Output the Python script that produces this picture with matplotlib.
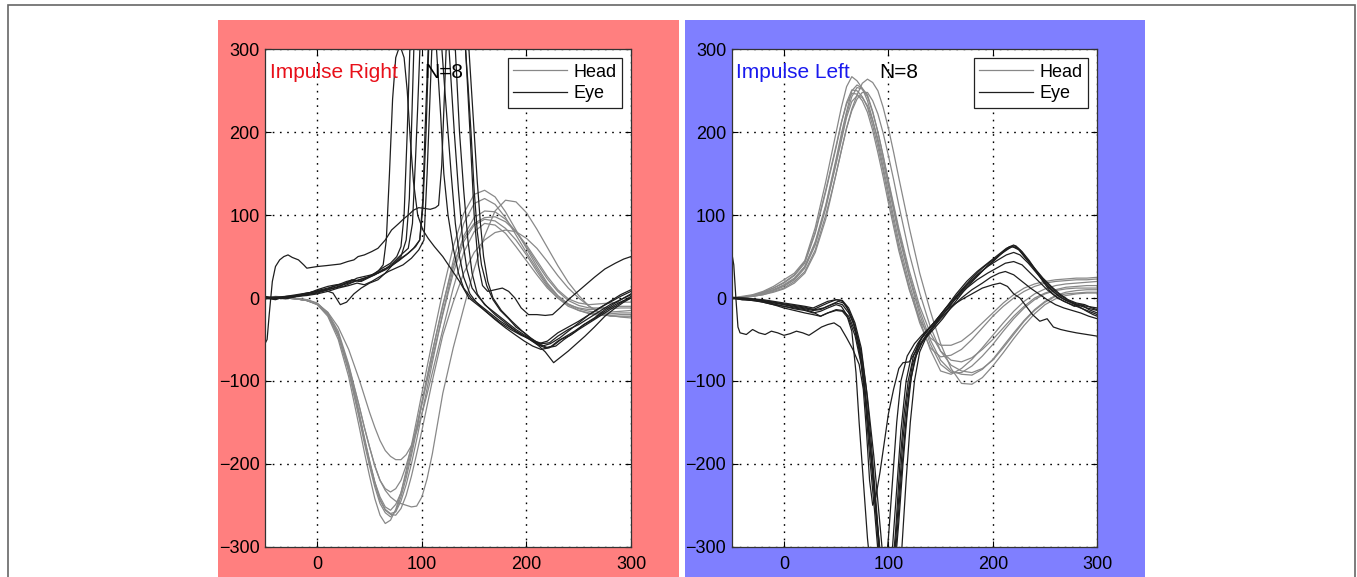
import matplotlib.pyplot as plt
from matplotlib.patches import Rectangle

plt.rcParams['font.family'] = ['Liberation Sans', 'DejaVu Sans']

# time axis (ms) shared by the head velocity traces (denser around the big swing)
t_head = [-50, -40, -30, -20, -10, 0, 10, 20, 30, 40,
          45, 50, 55, 60, 65, 70, 75, 80, 85, 90, 95, 100, 105, 110,
          120, 130, 140, 150, 160, 170, 180, 190, 200, 210, 220, 230, 240, 250, 260, 270, 280, 290, 300]

# --- Impulse Right : head traces (deg/s)
head_r1 = [0, 2, 1, -1, -3, -8, -22, -50, -95, -155,
           -186, -215, -242, -262, -272, -268, -255, -235, -208, -178, -147, -115, -83, -52,
           8, 62, 102, 125, 130, 122, 104, 82, 60, 38, 18, 3, -7, -13, -16, -17, -17, -16, -15]
head_r2 = [0, 1, 1, 0, -2, -7, -20, -46, -88, -145,
           -175, -203, -228, -248, -259, -264, -257, -240, -217, -190, -160, -128, -96, -65,
           -10, 45, 90, 114, 120, 113, 97, 76, 55, 35, 16, 2, -8, -15, -19, -21, -21, -20, -20]
head_r3 = [0, 1, 0, -1, -3, -7, -19, -43, -83, -138,
           -168, -196, -222, -243, -255, -260, -258, -245, -225, -200, -171, -140, -109, -78,
           -18, 36, 75, 97, 105, 104, 95, 80, 62, 42, 23, 8, -3, -9, -12, -12, -11, -10, -10]
head_r4 = [0, 0, 0, -1, -2, -6, -18, -45, -88, -142,
           -171, -198, -222, -240, -252, -256, -249, -235, -212, -185, -156, -125, -95, -65,
           -8, 40, 72, 90, 97, 98, 92, 80, 64, 45, 26, 10, -1, -6, -8, -7, -6, -5, -5]
head_r5 = [0, 1, 0, -1, -3, -8, -20, -45, -82, -130,
           -156, -180, -203, -220, -230, -234, -230, -220, -202, -180, -155, -128, -100, -72,
           -20, 30, 68, 88, 95, 93, 84, 70, 52, 32, 14, 0, -10, -15, -18, -19, -19, -18, -18]
head_r6 = [0, 0, 0, -1, -3, -7, -17, -35, -62, -98,
           -118, -138, -156, -172, -184, -191, -195, -195, -189, -178, -161, -140, -116, -90,
           -38, 12, 55, 80, 90, 88, 78, 62, 45, 28, 12, 0, -8, -12, -14, -13, -13, -12, -12]
head_r7 = [0, 0, 0, -1, -3, -7, -18, -40, -80, -130,
           -156, -180, -202, -220, -232, -240, -245, -248, -250, -252, -251, -240, -218, -188,
           -115, -60, -12, 35, 75, 105, 118, 116, 103, 83, 61, 39, 19, 3, -10, -18, -22, -22, -22]
head_r8 = [0, 1, 0, -1, -3, -7, -19, -44, -85, -140,
           -170, -198, -224, -244, -256, -261, -262, -254, -238, -215, -188, -160, -130, -100,
           -45, -5, 30, 55, 70, 79, 82, 80, 72, 60, 44, 27, 12, 0, -10, -17, -21, -23, -24]

# --- Impulse Right : eye traces (t, deg/s)
eye_r1 = [(-50, -55), (-48, -50), (-46, -20), (-43, 20), (-40, 38), (-36, 46), (-32, 50), (-28, 52),
          (-24, 49), (-18, 46), (-13, 40), (-10, 36), (-5, 37), (0, 38), (8, 39), (15, 40), (22, 41),
          (29, 44), (35, 46), (39, 50), (45, 52), (52, 56), (58, 60), (65, 70), (71, 82), (78, 90),
          (83, 96), (87, 100), (92, 106), (97, 109), (103, 108), (108, 107), (113, 109), (116, 112),
          (119, 160), (122, 260), (125, 360), (130, 420), (136, 400), (141, 320), (146, 200),
          (150, 100), (154, 40), (158, 15), (163, 8), (170, 10), (177, 12), (183, 8), (189, 0),
          (195, -12), (202, -20), (210, -20), (218, -21), (225, -20), (232, -12), (240, -2),
          (253, 12), (265, 25), (275, 35), (285, 42), (293, 47), (300, 50)]
eye_r2 = [(-50, 0), (-40, -2), (-30, 2), (-20, 4), (-10, 6), (0, 8), (10, 10), (20, 14), (30, 18),
          (40, 22), (50, 26), (58, 32), (63, 40), (66, 70), (69, 150), (72, 240), (75, 290),
          (79, 305), (83, 290), (86, 250), (89, 190), (92, 140), (96, 100), (101, 82), (106, 72),
          (112, 62), (120, 50), (128, 35), (136, 20), (145, 0), (155, -10), (165, -20), (175, -30),
          (185, -38), (195, -45), (205, -50), (212, -55), (220, -52), (230, -42), (240, -35),
          (250, -28), (260, -20), (270, -12), (280, -5), (290, 2), (300, 8)]
eye_r3 = [(-50, 2), (-40, 0), (-30, 1), (-20, 3), (-10, 5), (0, 9), (10, 12), (18, 15), (25, 14),
          (32, 18), (40, 22), (48, 25), (55, 30), (62, 36), (70, 42), (76, 50), (80, 62), (83, 100),
          (86, 200), (89, 320), (93, 420), (100, 440), (108, 400), (114, 300), (118, 220),
          (121, 150), (125, 100), (130, 60), (135, 30), (140, 12), (147, 0), (155, -8), (165, -18),
          (175, -28), (185, -36), (195, -44), (203, -50), (210, -56), (218, -60), (225, -58),
          (233, -50), (242, -45), (250, -38), (260, -30), (270, -22), (280, -14), (290, -6), (300, 2)]
eye_r4 = [(-50, 0), (-40, 1), (-30, 0), (-20, 2), (-10, 4), (0, 6), (8, 9), (15, 6), (22, -8),
          (28, -5), (35, 5), (42, 12), (50, 18), (58, 22), (65, 30), (72, 40), (80, 50), (85, 70),
          (88, 120), (90, 200), (93, 330), (97, 420), (105, 430), (112, 400), (118, 320),
          (122, 250), (125, 200), (128, 150), (132, 90), (136, 50), (140, 25), (146, 5), (152, -5),
          (160, -15), (170, -26), (180, -36), (190, -45), (198, -52), (206, -58), (214, -62),
          (222, -60), (230, -52), (238, -46), (246, -40), (255, -32), (265, -25), (275, -16),
          (285, -8), (293, -3), (300, 0)]
eye_r5 = [(-50, 1), (-40, 0), (-30, -1), (-20, 2), (-10, 5), (0, 10), (10, 14), (18, 16), (25, 17),
          (32, 20), (38, 24), (45, 26), (52, 28), (58, 30), (65, 35), (72, 42), (80, 52), (87, 60),
          (91, 90), (94, 170), (96, 230), (99, 330), (104, 420), (112, 440), (120, 390), (126, 300),
          (131, 200), (135, 130), (139, 70), (143, 35), (148, 12), (155, 0), (162, -10), (170, -20),
          (180, -30), (190, -40), (198, -46), (206, -52), (215, -58), (223, -55), (232, -48),
          (240, -40), (250, -30), (260, -20), (270, -12), (280, -4), (290, 4), (300, 10)]
eye_r6 = [(-50, 0), (-40, 1), (-30, 2), (-20, 3), (-10, 6), (0, 8), (10, 11), (20, 16), (28, 20),
          (35, 22), (42, 20), (50, 25), (58, 30), (65, 34), (72, 40), (80, 48), (87, 54), (94, 62),
          (98, 70), (101, 120), (103, 200), (106, 300), (110, 420), (118, 440), (126, 400),
          (132, 300), (136, 200), (140, 130), (144, 70), (148, 30), (153, 5), (160, -8), (170, -18),
          (180, -28), (190, -38), (200, -46), (208, -52), (215, -55), (222, -54), (230, -46),
          (240, -38), (250, -32), (260, -24), (270, -16), (280, -8), (290, -2), (300, 4)]
eye_r7 = [(-50, -1), (-40, 0), (-30, 1), (-20, 2), (-10, 4), (0, 7), (10, 10), (20, 13), (27, 18),
          (33, 22), (40, 20), (47, 24), (55, 28), (62, 34), (70, 38), (78, 45), (85, 52), (92, 60),
          (98, 70), (101, 110), (104, 200), (107, 320), (112, 430), (122, 450), (132, 420),
          (140, 330), (144, 260), (147, 200), (150, 130), (153, 80), (157, 40), (162, 15),
          (168, -2), (175, -15), (183, -25), (190, -35), (198, -42), (205, -50), (212, -58),
          (218, -65), (226, -78), (232, -72), (240, -64), (248, -55), (256, -46), (265, -35),
          (275, -22), (285, -12), (293, -5), (300, 0)]
eye_r8 = [(-50, 0), (-40, -1), (-30, 1), (-20, 2), (-10, 3), (0, 5), (10, 8), (20, 12), (30, 15),
          (38, 18), (45, 16), (52, 20), (60, 26), (68, 32), (75, 36), (82, 40), (90, 48), (97, 58),
          (102, 70), (105, 150), (108, 250), (111, 350), (116, 440), (126, 460), (136, 440),
          (143, 340), (147, 260), (150, 200), (153, 140), (156, 90), (159, 50), (163, 20),
          (168, 0), (176, -15), (186, -28), (196, -40), (204, -48), (212, -55), (220, -60),
          (228, -58), (236, -50), (245, -42), (255, -32), (265, -24), (275, -14), (285, -6),
          (293, 0), (300, 5)]

# --- Impulse Left : head traces
head_l1 = [0, 2, 4, 8, 14, 22, 30, 45, 85, 140,
           170, 200, 230, 255, 267, 262, 253, 238, 215, 188, 158, 128, 98, 68,
           18, -26, -62, -88, -92, -85, -74, -60, -45, -30, -16, -4, 5, 11, 15, 17, 18, 19, 20]
head_l2 = [0, 1, 2, 4, 8, 12, 20, 32, 58, 100,
           124, 150, 178, 205, 228, 245, 259, 264, 260, 250, 230, 205, 176, 145,
           85, 30, -15, -55, -85, -103, -104, -96, -82, -66, -49, -33, -19, -8, -1, 3, 5, 6, 6]
head_l3 = [0, 1, 3, 6, 10, 16, 24, 38, 68, 112,
           140, 168, 198, 225, 250, 257, 253, 245, 225, 200, 171, 140, 110, 80,
           28, -15, -50, -75, -88, -92, -93, -86, -74, -58, -42, -27, -14, -4, 3, 7, 9, 10, 10]
head_l4 = [0, 1, 3, 6, 10, 15, 23, 38, 66, 110,
           137, 165, 194, 222, 243, 254, 252, 243, 224, 200, 172, 142, 113, 84,
           33, -10, -42, -64, -75, -77, -72, -62, -50, -36, -22, -10, 0, 6, 10, 13, 14, 15, 15]
head_l5 = [0, 1, 3, 7, 12, 18, 27, 42, 78, 128,
           155, 182, 211, 236, 251, 250, 243, 230, 208, 182, 153, 122, 92, 62,
           12, -30, -60, -71, -69, -62, -50, -36, -22, -10, 0, 8, 14, 18, 20, 21, 22, 22, 23]
head_l6 = [0, 1, 3, 7, 12, 19, 28, 44, 80, 130,
           157, 184, 212, 234, 247, 246, 238, 224, 202, 175, 146, 115, 86, 57,
           10, -26, -48, -57, -57, -52, -42, -30, -18, -6, 4, 12, 17, 20, 22, 23, 24, 24, 25]
head_l7 = [0, 1, 2, 5, 9, 14, 22, 36, 64, 108,
           135, 162, 190, 218, 237, 244, 242, 232, 214, 192, 165, 135, 106, 76,
           25, -20, -55, -80, -90, -90, -82, -70, -56, -40, -25, -12, -2, 5, 9, 11, 12, 12, 12]
head_l8 = [0, 0, 2, 4, 7, 11, 18, 30, 55, 95,
           122, 150, 178, 205, 226, 240, 248, 248, 238, 222, 199, 172, 143, 112,
           54, 6, -34, -64, -81, -88, -90, -85, -75, -60, -44, -28, -15, -5, 2, 5, 6, 7, 7]

# --- Impulse Left : eye traces
eye_l1 = [(-50, 55), (-48, 40), (-46, 0), (-44, -35), (-42, -42), (-36, -44), (-30, -38), (-24, -42),
          (-18, -44), (-12, -40), (-6, -42), (0, -45), (6, -43), (12, -40), (18, -42), (24, -45),
          (30, -40), (36, -35), (42, -32), (48, -30), (54, -35), (60, -48), (66, -62), (72, -80),
          (76, -110), (79, -160), (82, -220), (85, -250), (88, -240), (92, -210), (96, -175),
          (100, -140), (105, -110), (110, -85), (114, -78), (120, -77), (126, -65), (132, -48),
          (140, -35), (150, -22), (160, -10), (170, -2), (180, 5), (190, 12), (200, 16), (207, 18),
          (214, 14), (220, 5), (226, 0), (232, -10), (238, -20), (245, -28), (252, -25), (258, -35),
          (265, -38), (272, -40), (280, -42), (290, -44), (300, -46)]
eye_l2 = [(-50, 0), (-40, -1), (-30, -3), (-20, -4), (-10, -6), (0, -8), (10, -10), (20, -12),
          (30, -14), (38, -12), (45, -8), (52, -4), (57, -6), (62, -15), (67, -30), (72, -60),
          (77, -110), (82, -190), (87, -260), (91, -320), (95, -360), (100, -350), (104, -300),
          (108, -230), (112, -160), (117, -100), (122, -70), (128, -55), (135, -42), (145, -28),
          (155, -12), (165, 5), (175, 20), (185, 32), (195, 42), (205, 52), (213, 60), (220, 64),
          (226, 58), (232, 48), (240, 35), (248, 20), (255, 8), (262, 0), (270, -5), (278, -10),
          (285, -8), (292, -14), (300, -18)]
eye_l3 = [(-50, 0), (-40, -2), (-30, -2), (-20, -5), (-10, -8), (0, -10), (10, -13), (20, -15),
          (28, -18), (35, -16), (42, -12), (50, -8), (55, -10), (60, -20), (65, -40), (69, -90),
          (72, -150), (76, -220), (80, -290), (84, -340), (90, -360), (96, -340), (100, -290),
          (104, -220), (108, -150), (112, -100), (118, -70), (125, -55), (132, -45), (140, -35),
          (150, -20), (160, -5), (170, 10), (180, 24), (190, 36), (200, 46), (210, 55), (218, 62),
          (224, 60), (230, 50), (238, 38), (246, 25), (254, 12), (262, 3), (270, -3), (280, -8),
          (290, -12), (300, -15)]
eye_l4 = [(-50, 1), (-40, 0), (-30, -1), (-20, -3), (-10, -5), (0, -7), (10, -9), (20, -11),
          (28, -14), (35, -10), (42, -6), (50, -2), (56, -3), (62, -12), (68, -30), (74, -60),
          (79, -110), (84, -180), (89, -260), (93, -330), (98, -360), (103, -340), (107, -280),
          (111, -200), (115, -140), (119, -100), (124, -70), (130, -52), (137, -40), (145, -28),
          (155, -12), (165, 2), (175, 16), (185, 28), (195, 38), (205, 46), (213, 52), (220, 55),
          (226, 52), (234, 42), (242, 30), (250, 18), (258, 8), (266, 0), (274, -5), (282, -10),
          (290, -16), (296, -20), (300, -22)]
eye_l5 = [(-50, 0), (-40, -1), (-30, -2), (-20, -4), (-10, -7), (0, -10), (10, -12), (20, -14),
          (28, -17), (35, -22), (42, -18), (50, -14), (56, -15), (62, -22), (68, -40), (74, -75),
          (79, -130), (84, -200), (88, -260), (92, -320), (97, -370), (102, -360), (106, -310),
          (110, -240), (114, -170), (118, -120), (123, -80), (129, -58), (136, -45), (145, -30),
          (155, -15), (165, 0), (175, 12), (185, 22), (195, 30), (205, 37), (212, 42), (220, 44),
          (228, 40), (236, 30), (244, 20), (252, 10), (260, 2), (268, -4), (276, -8), (284, -12),
          (292, -16), (300, -20)]
eye_l6 = [(-50, 0), (-40, -2), (-30, -3), (-20, -5), (-10, -8), (0, -12), (10, -15), (20, -18),
          (28, -20), (35, -22), (42, -18), (50, -15), (56, -16), (62, -25), (68, -45), (74, -80),
          (80, -140), (85, -210), (90, -280), (95, -340), (100, -360), (106, -330), (110, -270),
          (114, -200), (118, -140), (122, -95), (127, -68), (133, -52), (140, -40), (150, -25),
          (160, -12), (170, 0), (180, 10), (190, 18), (198, 25), (206, 30), (212, 32), (220, 28),
          (228, 20), (236, 12), (244, 5), (252, -2), (260, -8), (268, -12), (276, -15), (284, -18),
          (292, -22), (300, -25)]
eye_l7 = [(-50, 0), (-40, -1), (-30, -2), (-20, -3), (-10, -5), (0, -8), (10, -11), (20, -13),
          (28, -15), (35, -14), (42, -10), (50, -6), (56, -8), (62, -18), (68, -35), (74, -65),
          (80, -120), (86, -190), (91, -260), (96, -330), (102, -370), (108, -370), (113, -300),
          (117, -220), (121, -150), (125, -100), (130, -65), (136, -48), (143, -38), (152, -25),
          (162, -8), (172, 8), (182, 22), (192, 35), (202, 46), (210, 56), (216, 62), (222, 63),
          (228, 56), (235, 45), (242, 32), (250, 20), (258, 10), (266, 2), (274, -4), (282, -8),
          (290, -10), (300, -12)]
eye_l8 = [(-50, -1), (-40, 0), (-30, -1), (-20, -2), (-10, -4), (0, -6), (10, -8), (20, -10),
          (28, -12), (35, -8), (42, -4), (50, -2), (55, -3), (60, -10), (66, -28), (72, -55),
          (77, -100), (82, -170), (87, -240), (92, -310), (97, -360), (103, -350), (108, -290),
          (112, -220), (116, -160), (120, -110), (125, -75), (131, -56), (138, -44), (146, -30),
          (156, -14), (166, 2), (176, 16), (186, 28), (196, 40), (205, 50), (212, 58), (219, 62),
          (225, 58), (232, 48), (240, 36), (248, 24), (256, 14), (264, 5), (272, -2), (280, -6),
          (288, -8), (295, -12), (300, -14)]

x_ticks = [0, 100, 200, 300]
y_ticks = [-300, -200, -100, 0, 100, 200, 300]


def draw_panel(ax, heads, eyes, label, label_color, n_x):
    for v in heads:
        h, = ax.plot(t_head, v, color='#888888', lw=0.9)
    for pts in eyes:
        t, v = zip(*pts)
        e, = ax.plot(t, v, color='#1e1e1e', lw=0.9)
    ax.set_xlim(-50, 300)
    ax.set_ylim(-300, 300)
    ax.set_xticks(x_ticks)
    ax.set_yticks(y_ticks)
    ax.grid(True, color='k', lw=1.0, linestyle=(0, (1.2, 4)))
    ax.tick_params(direction='in', length=4, top=True, right=True, labelsize=13,
                   colors='k', width=0.8)
    ax.tick_params(axis='x', pad=7)
    ax.tick_params(axis='y', pad=4)
    for s in ax.spines.values():
        s.set_color('#333333')
        s.set_linewidth(0.9)
    ax.text(-45.5, 272, label, color=label_color, fontsize=15, va='center', ha='left')
    ax.text(n_x, 272, 'N=8', color='k', fontsize=15, va='center', ha='left')
    leg = ax.legend([h, e], ['Head', 'Eye'], loc='upper right', fontsize=13,
                    handlelength=3.0, handletextpad=0.35, labelspacing=0.25,
                    borderpad=0.3, fancybox=False, framealpha=1)
    leg.get_frame().set_edgecolor('#222222')
    leg.get_frame().set_linewidth(0.9)


fig = plt.figure(figsize=(13.57, 5.77), dpi=100)

# coloured backgrounds behind each panel and the outer frame
fig.patches.append(Rectangle((0.1606, -0.02), 0.3397, 0.9853, transform=fig.transFigure,
                             facecolor='#FF7F7F', edgecolor='none', zorder=-2))
fig.patches.append(Rectangle((0.5048, -0.02), 0.3390, 0.9853, transform=fig.transFigure,
                             facecolor='#7F7FFF', edgecolor='none', zorder=-2))
fig.patches.append(Rectangle((0.0059, -0.05), 0.9926, 1.0413, transform=fig.transFigure,
                             fill=False, edgecolor='#666666', lw=1.2, zorder=-2))

ax1 = fig.add_axes([0.1953, 0.0525, 0.2697, 0.862])
ax2 = fig.add_axes([0.5392, 0.0525, 0.2694, 0.862])

draw_panel(ax1, [head_r1, head_r2, head_r3, head_r4, head_r5, head_r6, head_r7, head_r8],
           [eye_r1, eye_r2, eye_r3, eye_r4, eye_r5, eye_r6, eye_r7, eye_r8],
           'Impulse Right', '#e8101a', 102)
draw_panel(ax2, [head_l1, head_l2, head_l3, head_l4, head_l5, head_l6, head_l7, head_l8],
           [eye_l1, eye_l2, eye_l3, eye_l4, eye_l5, eye_l6, eye_l7, eye_l8],
           'Impulse Left', '#1a1aee', 91)

fig.savefig('out.png', dpi=100)
